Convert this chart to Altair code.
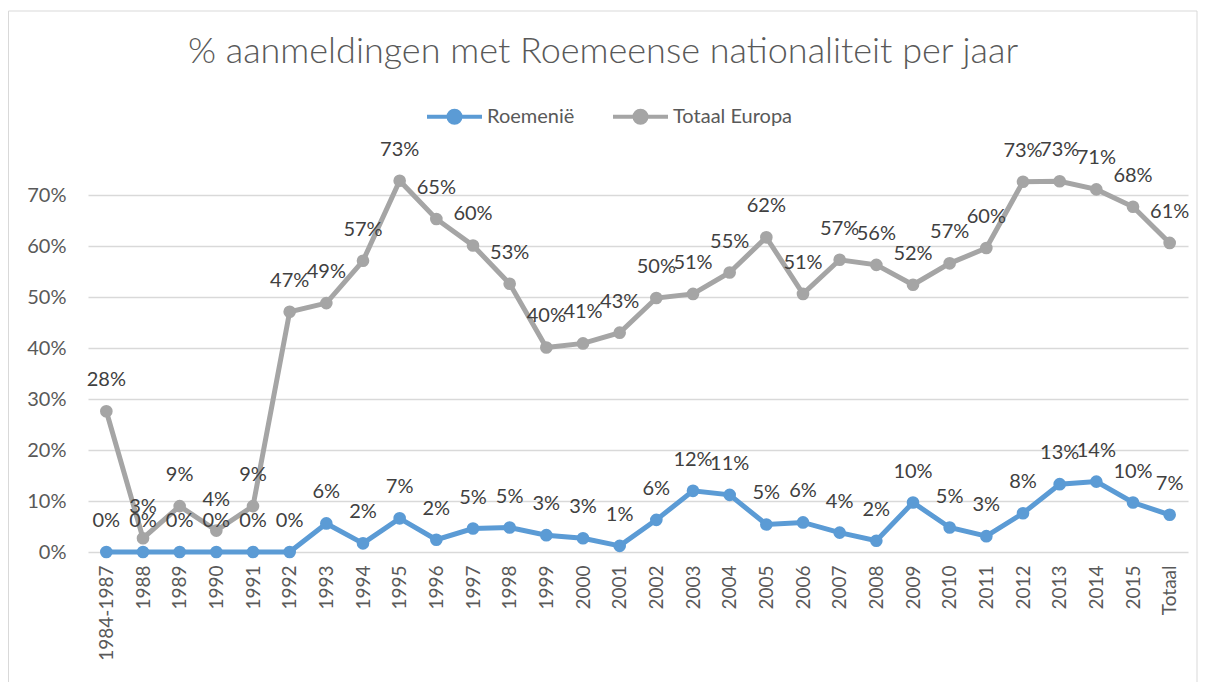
import altair as alt
import pandas as pd

categories = ["1984-1987", "1988", "1989", "1990", "1991", "1992", "1993", "1994",
              "1995", "1996", "1997", "1998", "1999", "2000", "2001", "2002", "2003",
              "2004", "2005", "2006", "2007", "2008", "2009", "2010", "2011", "2012",
              "2013", "2014", "2015", "Totaal"]

roemenie = [0, 0, 0, 0, 0, 0, 0.056, 0.017, 0.066, 0.024, 0.046, 0.048, 0.033, 0.027,
            0.012, 0.063, 0.120, 0.112, 0.054, 0.058, 0.038, 0.022, 0.097, 0.048,
            0.031, 0.076, 0.133, 0.138, 0.097, 0.073]

totaal_europa = [0.276, 0.027, 0.09, 0.042, 0.09, 0.471, 0.488, 0.571, 0.728, 0.653,
                 0.601, 0.526, 0.401, 0.409, 0.430, 0.498, 0.506, 0.548, 0.617, 0.506,
                 0.573, 0.563, 0.524, 0.566, 0.596, 0.726, 0.727, 0.711, 0.677, 0.606]

series_names = ["Roemenië", "Totaal Europa"]
series_colors = ["#5B9BD5", "#A5A5A5"]
y_ticks = [0, 0.1, 0.2, 0.3, 0.4, 0.5, 0.6, 0.7]

rows = []
for name, vals in zip(series_names, [roemenie, totaal_europa]):
    for c, v in zip(categories, vals):
        rows.append({"cat": c, "series": name, "value": v})
df = pd.DataFrame(rows)

FONT = "Lato"
W, H = 1100, 357

legend_path = ("M-1,0L1,0"
               "M0.218,0A0.218,0.218,0,1,1,-0.218,0A0.218,0.218,0,1,1,0.218,0"
               "M0.145,0A0.145,0.145,0,1,1,-0.145,0A0.145,0.145,0,1,1,0.145,0"
               "M0.073,0A0.073,0.073,0,1,1,-0.073,0A0.073,0.073,0,1,1,0.073,0")

x_enc = alt.X("cat:N", sort=categories, title=None,
              scale=alt.Scale(paddingInner=1, paddingOuter=0.5),
              axis=alt.Axis(labelAngle=-90, labelFontSize=19, labelColor="#595959",
                            labelFont=FONT, ticks=False, domain=False, grid=False,
                            labelPadding=13))
y_enc = alt.Y("value:Q", title=None,
              scale=alt.Scale(domain=[0, 0.7], nice=False),
              axis=alt.Axis(values=y_ticks, format=".0%", labelFontSize=20,
                            labelColor="#595959", labelFont=FONT, ticks=False,
                            domain=False, labelPadding=22, gridColor="#D9D9D9",
                            gridWidth=1.3))
color_scale = alt.Scale(domain=series_names, range=series_colors)

base = alt.Chart(df)

lines = base.mark_line(strokeWidth=5).encode(
    x=x_enc, y=y_enc,
    color=alt.Color("series:N", scale=color_scale, title=None,
                    legend=alt.Legend(orient="none", direction="horizontal",
                                      legendX=337, legendY=-108,
                                      symbolType=legend_path, symbolSize=3025,
                                      symbolStrokeWidth=4, labelFontSize=20,
                                      labelColor="#595959", labelFont=FONT,
                                      labelOffset=3, columnPadding=30, padding=0)),
    order=alt.Order("series:N")
)

points = base.mark_circle(size=160, opacity=1).encode(
    x=alt.X("cat:N", sort=categories),
    y="value:Q",
    color=alt.Color("series:N", scale=color_scale, legend=None)
)

labels = base.mark_text(dy=-31, fontSize=20, font=FONT, color="#404040",
                        baseline="middle").encode(
    x=alt.X("cat:N", sort=categories),
    y="value:Q",
    text=alt.Text("value:Q", format=".0%")
)

border = alt.Chart(pd.DataFrame({"k": [0]})).mark_rect(
    fill=None, stroke="#D9D9D9", strokeWidth=1
).encode(x=alt.value(-79.5), x2=alt.value(1109), y=alt.value(-184), y2=alt.value(490))

chart = alt.layer(border, lines, points, labels).properties(
    width=W, height=H,
    autosize=alt.AutoSizeParams(type="none"),
    padding={"left": 80, "top": 187, "right": 10, "bottom": 130},
    title=alt.TitleParams("% aanmeldingen met Roemeense nationaliteit per jaar",
                          font=FONT, fontSize=36, fontWeight=300,
                          color="#595959", anchor="middle", dx=-35, offset=-60)
).configure_view(stroke=None).configure_axisY(gridColor="#D9D9D9")

chart.save("out.html", embed_options={"renderer": "svg", "actions": False})
